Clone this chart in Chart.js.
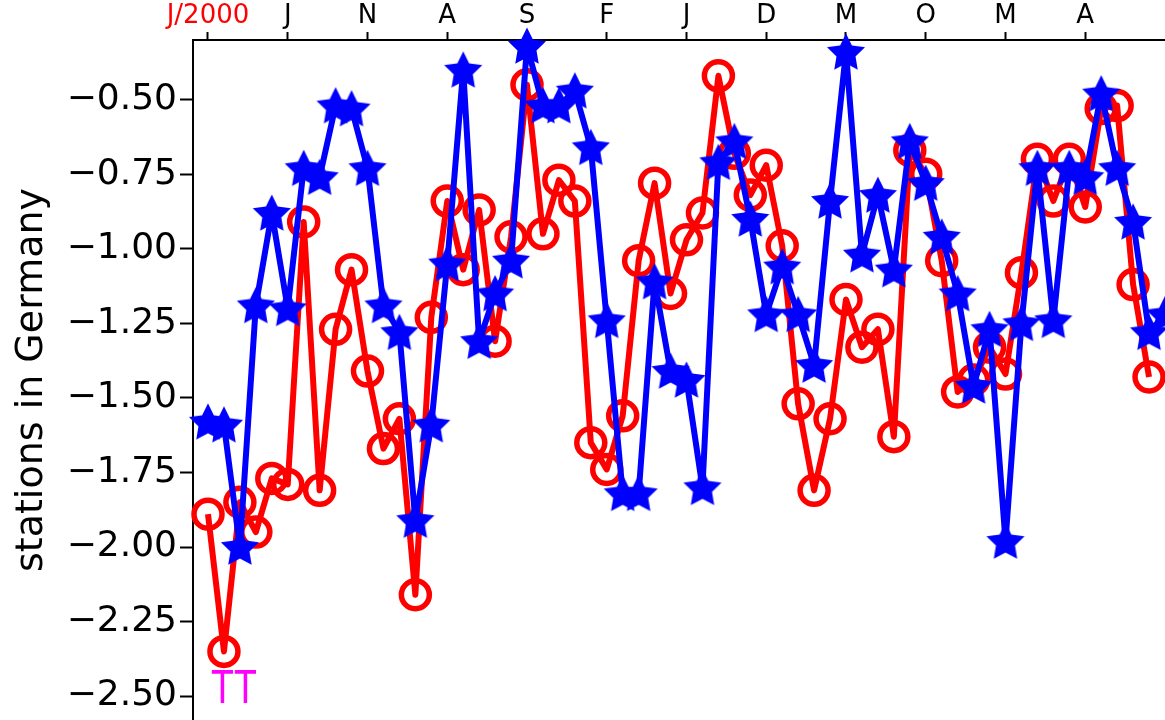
<!DOCTYPE html>
<html>
<head>
<meta charset="utf-8">
<script src="https://cdn.jsdelivr.net/npm/chart.js@4.4.1/dist/chart.umd.min.js"></script>
<style>
  html, body { margin: 0; padding: 0; background: #fff; }
  #wrap { width: 1165px; height: 720px; position: relative; }
</style>
</head>
<body>
<div id="wrap"><canvas id="chart"></canvas></div>
<script>
/* ---------- data (one value per month, Jan 2000 onwards) ---------- */
const tickMonths = [0, 5, 10, 15, 20, 25, 30, 35, 40, 45, 50, 55];
const tickLabels = ['J/2000', 'J', 'N', 'A', 'S', 'F', 'J', 'D', 'M', 'O', 'M', 'A'];
const yTicks = [-0.5, -0.75, -1.0, -1.25, -1.5, -1.75, -2.0, -2.25, -2.5];

const redSeries = [
  -1.89, -2.35, -1.85, -1.95, -1.77, -1.79, -0.91, -1.81, -1.27, -1.07,
  -1.41, -1.67, -1.57, -2.16, -1.23, -0.84, -1.07, -0.87, -1.31, -0.96,
  -0.45, -0.95, -0.77, -0.84, -1.65, -1.74, -1.56, -1.04, -0.78, -1.15,
  -0.97, -0.88, -0.42, -0.68, -0.82, -0.72, -0.99, -1.52, -1.81, -1.57,
  -1.17, -1.33, -1.27, -1.63, -0.67, -0.75, -1.04, -1.48, -1.44, -1.33,
  -1.42, -1.08, -0.70, -0.84, -0.70, -0.86, -0.53, -0.52, -1.12, -1.43,
  null
];

const blueSeries = [
  -1.58, -1.59, -2.00, -1.19, -0.88, -1.20, -0.73, -0.76, -0.52, -0.53,
  -0.73, -1.19, -1.28, -1.91, -1.59, -1.05, -0.40, -1.31, -1.15, -1.04,
  -0.32, -0.52, -0.52, -0.47, -0.66, -1.24, -1.82, -1.82, -1.11, -1.41,
  -1.44, -1.80, -0.71, -0.64, -0.90, -1.22, -1.06, -1.22, -1.39, -0.84,
  -0.34, -1.02, -0.82, -1.07, -0.64, -0.78, -0.96, -1.15, -1.46, -1.27,
  -1.98, -1.25, -0.73, -1.24, -0.73, -0.76, -0.48, -0.73, -0.91, -1.28,
  -1.22
];

const yTitle = 'stations in Germany';
const markText = 'TT';

/* ---------- helpers ---------- */
function toPoints(series) {
  return series.map((v, i) => ({ x: i, y: v }));
}

// filled five-point star used as blue marker
function makeStar(size, color) {
  const c = document.createElement('canvas');
  c.width = c.height = size;
  const g = c.getContext('2d');
  const cx = size / 2, cy = size / 2 + 1.5;
  const R = size / 2 - 1, r = R * 0.5;
  g.beginPath();
  for (let k = 0; k < 10; k++) {
    const a = -Math.PI / 2 + k * Math.PI / 5;
    const rad = k % 2 ? r : R;
    g.lineTo(cx + rad * Math.cos(a), cy + rad * Math.sin(a));
  }
  g.closePath();
  g.fillStyle = color;
  g.fill();
  return c;
}

// magenta "TT" mark near the bottom left
const markPlugin = {
  id: 'mark',
  afterDatasetsDraw(chart) {
    const { ctx, scales: { x, y } } = chart;
    ctx.save();
    ctx.translate(x.getPixelForValue(0.19), y.getPixelForValue(-2.523));
    ctx.scale(0.78, 1);
    ctx.fillStyle = '#ff00ff';
    ctx.font = '48px "Liberation Sans", "DejaVu Sans", sans-serif';
    ctx.textBaseline = 'alphabetic';
    ctx.textAlign = 'left';
    ctx.fillText(markText, 0, 0);
    ctx.restore();
  }
};

// drop the edge padding Chart.js reserves for tick labels
function noEdgePadding(s) {
  s.paddingLeft = 0;
  s.paddingRight = 0;
  s.paddingTop = 0;
  s.paddingBottom = 0;
}

/* ---------- chart ---------- */
const starImg = makeStar(42, '#0000ff');

new Chart(document.getElementById('chart').getContext('2d'), {
  type: 'line',
  data: {
    datasets: [
      {
        label: 'blue',
        data: toPoints(blueSeries),
        borderColor: '#0000ff',
        backgroundColor: '#0000ff',
        borderWidth: 6,
        borderJoinStyle: 'round',
        pointStyle: starImg,
        pointRadius: 18,
        tension: 0,
        clip: false
      },
      {
        label: 'red',
        data: toPoints(redSeries),
        borderColor: '#ff0000',
        borderWidth: 6,
        borderJoinStyle: 'round',
        pointStyle: 'circle',
        pointRadius: 14,
        pointBorderWidth: 5.5,
        pointBorderColor: '#ff0000',
        pointBackgroundColor: 'rgba(0,0,0,0)',
        tension: 0,
        clip: false
      }
    ]
  },
  options: {
    responsive: true,
    maintainAspectRatio: false,
    animation: false,
    layout: { padding: 0, autoPadding: false },
    plugins: {
      legend: { display: false },
      tooltip: { enabled: false }
    },
    scales: {
      x: {
        type: 'linear',
        position: 'top',
        min: -0.94,
        max: 60.0,
        afterFit: s => { s.height = 40; noEdgePadding(s); },
        afterBuildTicks: s => { s.ticks = tickMonths.map(v => ({ value: v })); },
        grid: { drawOnChartArea: false, tickLength: 8, tickWidth: 2, color: '#000' },
        border: { display: true, color: '#000', width: 2 },
        ticks: {
          autoSkip: false,
          maxRotation: 0,
          padding: 0,
          font: { family: 'DejaVu Sans', size: 26 },
          color: c => (c.index === 0 ? '#ff0000' : '#000'),
          callback: v => tickLabels[tickMonths.indexOf(v)]
        }
      },
      y: {
        type: 'linear',
        position: 'left',
        min: -2.58,
        max: -0.30,
        afterFit: s => { s.width = 193; noEdgePadding(s); },
        afterBuildTicks: s => { s.ticks = yTicks.map(v => ({ value: v })); },
        grid: { drawOnChartArea: false, tickLength: 13, tickWidth: 2, color: '#000' },
        border: { display: true, color: '#000', width: 2 },
        ticks: {
          padding: 3,
          color: '#000',
          font: { family: 'DejaVu Sans', size: 36 },
          callback: v => '\u2212' + Math.abs(v).toFixed(2)
        },
        title: {
          display: true,
          text: yTitle,
          color: '#000',
          font: { family: 'DejaVu Sans', size: 38 },
          padding: { top: 9, bottom: 0 }
        }
      }
    }
  },
  plugins: [markPlugin]
});
</script>
</body>
</html>
